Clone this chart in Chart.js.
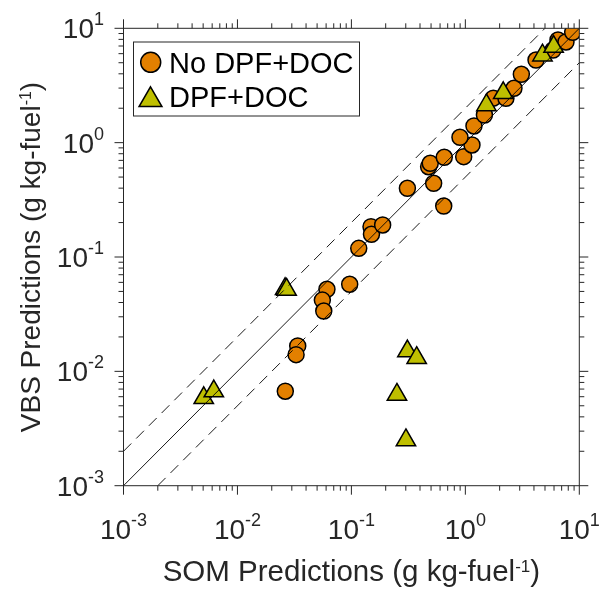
<!DOCTYPE html>
<html>
<head>
<meta charset="utf-8">
<script src="https://cdn.jsdelivr.net/npm/chart.js@4/dist/chart.umd.min.js"></script>
<style>
  html, body { margin: 0; padding: 0; background: #ffffff; }
  #wrap { width: 600px; height: 589px; }
</style>
</head>
<body>
<div id="wrap"><canvas id="c" width="600" height="589"></canvas></div>
<script>
// ---- data (g kg-fuel^-1) ----
const noDpfSom = [0.0263, 0.0338, 0.0327, 0.061, 0.0556, 0.0572, 0.0966, 0.116, 0.1486, 0.150, 0.188,
  0.31, 0.646, 0.527, 0.476, 0.492, 0.653, 0.967, 1.143, 0.897, 1.19, 1.47, 1.76, 2.27, 2.67, 3.1,
  4.17, 5.88, 6.5, 7.64, 8.75];
const noDpfVbs = [0.0067, 0.0167, 0.0140, 0.0522, 0.042, 0.0337, 0.0577, 0.119, 0.184, 0.158, 0.1905,
  0.399, 0.279, 0.441, 0.616, 0.66, 0.745, 0.754, 0.954, 1.114, 1.40, 1.745, 2.45, 2.44, 2.99, 3.96,
  5.28, 6.46, 7.9, 7.59, 9.23];
const dpfSom = [0.00506, 0.0062, 0.0262, 0.027, 0.31, 0.374, 0.251, 0.301, 1.53, 2.15, 4.75, 5.95];
const dpfVbs = [0.00585, 0.0067, 0.0525, 0.0518, 0.015, 0.0131, 0.00625, 0.0025, 2.13, 2.72, 5.8, 6.9];

// reference lines: 1:1 and factor-of-2 bounds
const oneToOneX = [0.001, 10];
const oneToOneY = [0.001, 10];
const upperX = [0.001, 5];
const upperY = [0.002, 10];
const lowerX = [0.002, 10];
const lowerY = [0.001, 5];

// axis ticks
const decadeValues = [0.001, 0.01, 0.1, 1, 10];
const decadeExponents = ['-3', '-2', '-1', '0', '1'];
const minorMultipliers = [2, 3, 4, 5, 6, 7, 8, 9];

const xTitle = 'SOM Predictions (g kg-fuel';
const yTitle = 'VBS Predictions (g kg-fuel';
const titleSup = '-1';
const legendLabels = ['No DPF+DOC', 'DPF+DOC'];

// ---- styles ----
const ORANGE = '#E38000';
const OLIVE = '#BFBF00';
const INK = '#262626';
const FONT = '"Liberation Sans", Arial, Helvetica, sans-serif';

const zip = (xs, ys) => xs.map((x, i) => ({ x: x, y: ys[i] }));

const matlabAxes = {
  id: 'matlabAxes',
  afterDatasetsDraw(chart) {
    const ctx = chart.ctx;
    const xs = chart.scales.x, ys = chart.scales.y;
    const a = chart.chartArea;
    ctx.save();
    // box
    ctx.strokeStyle = INK;
    ctx.lineWidth = 1;
    ctx.strokeRect(a.left, a.top, a.right - a.left, a.bottom - a.top);
    // ticks
    const tickVals = [];
    decadeValues.forEach((d, i) => {
      tickVals.push({ v: d, major: true });
      if (i < decadeValues.length - 1) minorMultipliers.forEach(m => tickVals.push({ v: d * m, major: false }));
    });
    ctx.beginPath();
    tickVals.forEach(t => {
      const len = t.major ? 9 : 5;
      const px = xs.getPixelForValue(t.v);
      ctx.moveTo(px, a.bottom); ctx.lineTo(px, a.bottom + len);
      ctx.moveTo(px, a.top); ctx.lineTo(px, a.top - len);
      const py = ys.getPixelForValue(t.v);
      ctx.moveTo(a.left, py); ctx.lineTo(a.left - len, py);
      ctx.moveTo(a.right, py); ctx.lineTo(a.right + len, py);
    });
    ctx.stroke();

    // tick labels 10^n
    ctx.fillStyle = INK;
    ctx.textBaseline = 'alphabetic';
    ctx.textAlign = 'left';
    const baseFont = '28px ' + FONT;
    const expFont = '18px ' + FONT;
    const measure = (txt, f) => { ctx.font = f; return ctx.measureText(txt).width; };
    decadeValues.forEach((d, i) => {
      const e = decadeExponents[i];
      const wb = measure('10', baseFont), we = measure(e, expFont);
      // x axis
      const px = xs.getPixelForValue(d);
      let x0 = px - (wb + we) / 2;
      ctx.font = baseFont; ctx.fillText('10', x0, 539);
      ctx.font = expFont; ctx.fillText(e, x0 + wb, 526);
      // y axis
      const py = ys.getPixelForValue(d);
      x0 = 104 - (wb + we);
      ctx.font = baseFont; ctx.fillText('10', x0, py + 10);
      ctx.font = expFont; ctx.fillText(e, x0 + wb, py - 3);
    });

    // axis titles
    const tFontX = '29.5px ' + FONT;
    const sFontX = '17px ' + FONT;
    const wT = measure(xTitle, tFontX), wS = measure(titleSup, sFontX), wP = measure(')', tFontX);
    const total = wT + wS + wP;
    const cx = (a.left + a.right) / 2;
    let sx = cx - total / 2;
    ctx.font = tFontX; ctx.fillText(xTitle, sx, 581);
    ctx.font = sFontX; ctx.fillText(titleSup, sx + wT, 572);
    ctx.font = tFontX; ctx.fillText(')', sx + wT + wS, 581);

    const tFont = '28px ' + FONT;
    const sFont = '16px ' + FONT;
    const wTy = measure(yTitle, tFont), wSy = measure(titleSup, sFont), wPy = measure(')', tFont);
    const totalY = wTy + wSy + wPy;
    const cy = (a.top + a.bottom) / 2;
    ctx.save();
    ctx.translate(40, cy);
    ctx.rotate(-Math.PI / 2);
    sx = -totalY / 2;
    ctx.font = tFont; ctx.fillText(yTitle, sx, 0);
    ctx.font = sFont; ctx.fillText(titleSup, sx + wTy, -9);
    ctx.font = tFont; ctx.fillText(')', sx + wTy + wSy, 0);
    ctx.restore();

    // legend
    ctx.fillStyle = '#ffffff';
    ctx.fillRect(133.5, 42, 226, 74);
    ctx.strokeStyle = INK;
    ctx.lineWidth = 1;
    ctx.strokeRect(133.5, 42, 226, 74);
    ctx.fillStyle = ORANGE; ctx.strokeStyle = '#000';
    ctx.lineWidth = 1.5;
    ctx.beginPath(); ctx.arc(150.7, 62.3, 10, 0, Math.PI * 2); ctx.fill(); ctx.stroke();
    ctx.fillStyle = OLIVE;
    const tr = 13.2, tx = 150.5, ty = 100;
    ctx.beginPath();
    ctx.moveTo(tx, ty - tr);
    ctx.lineTo(tx + Math.sin(2 * Math.PI / 3) * tr, ty - Math.cos(2 * Math.PI / 3) * tr);
    ctx.lineTo(tx + Math.sin(4 * Math.PI / 3) * tr, ty - Math.cos(4 * Math.PI / 3) * tr);
    ctx.closePath(); ctx.fill(); ctx.stroke();
    ctx.fillStyle = '#000';
    ctx.font = '29px ' + FONT;
    ctx.fillText(legendLabels[0], 169, 72.5);
    ctx.fillText(legendLabels[1], 169, 107.3);
    ctx.restore();
  }
};

new Chart(document.getElementById('c'), {
  type: 'scatter',
  data: {
    datasets: [
      { label: '1:1', type: 'line', data: zip(oneToOneX, oneToOneY), borderColor: '#000', borderWidth: 0.9,
        pointRadius: 0, fill: false, order: 0 },
      { label: '2:1', type: 'line', data: zip(upperX, upperY), borderColor: '#000', borderWidth: 0.9,
        borderDash: [11, 7], pointRadius: 0, fill: false, order: 0 },
      { label: '1:2', type: 'line', data: zip(lowerX, lowerY), borderColor: '#000', borderWidth: 0.9,
        borderDash: [11, 7], pointRadius: 0, fill: false, order: 0 },
      { label: legendLabels[1], data: zip(dpfSom, dpfVbs), pointStyle: 'triangle', pointRadius: 11.2,
        backgroundColor: OLIVE, borderColor: '#000', borderWidth: 1.5, order: 1 },
      { label: legendLabels[0], data: zip(noDpfSom, noDpfVbs), pointStyle: 'circle', pointRadius: 8,
        backgroundColor: ORANGE, borderColor: '#000', borderWidth: 1.5, order: 2 }
    ]
  },
  options: {
    responsive: false,
    animation: false,
    devicePixelRatio: 1,
    layout: { padding: { left: 0, top: 28.3, right: 20.7, bottom: 0 } },
    plugins: { legend: { display: false }, tooltip: { enabled: false } },
    scales: {
      x: {
        type: 'logarithmic', min: 0.001, max: 10,
        grid: { display: false }, border: { display: false },
        ticks: { display: false },
        afterFit: s => { s.height = 103.3; }
      },
      y: {
        type: 'logarithmic', min: 0.001, max: 10,
        grid: { display: false }, border: { display: false },
        ticks: { display: false },
        afterFit: s => { s.width = 123.5; }
      }
    }
  },
  plugins: [matlabAxes]
});
</script>
</body>
</html>
